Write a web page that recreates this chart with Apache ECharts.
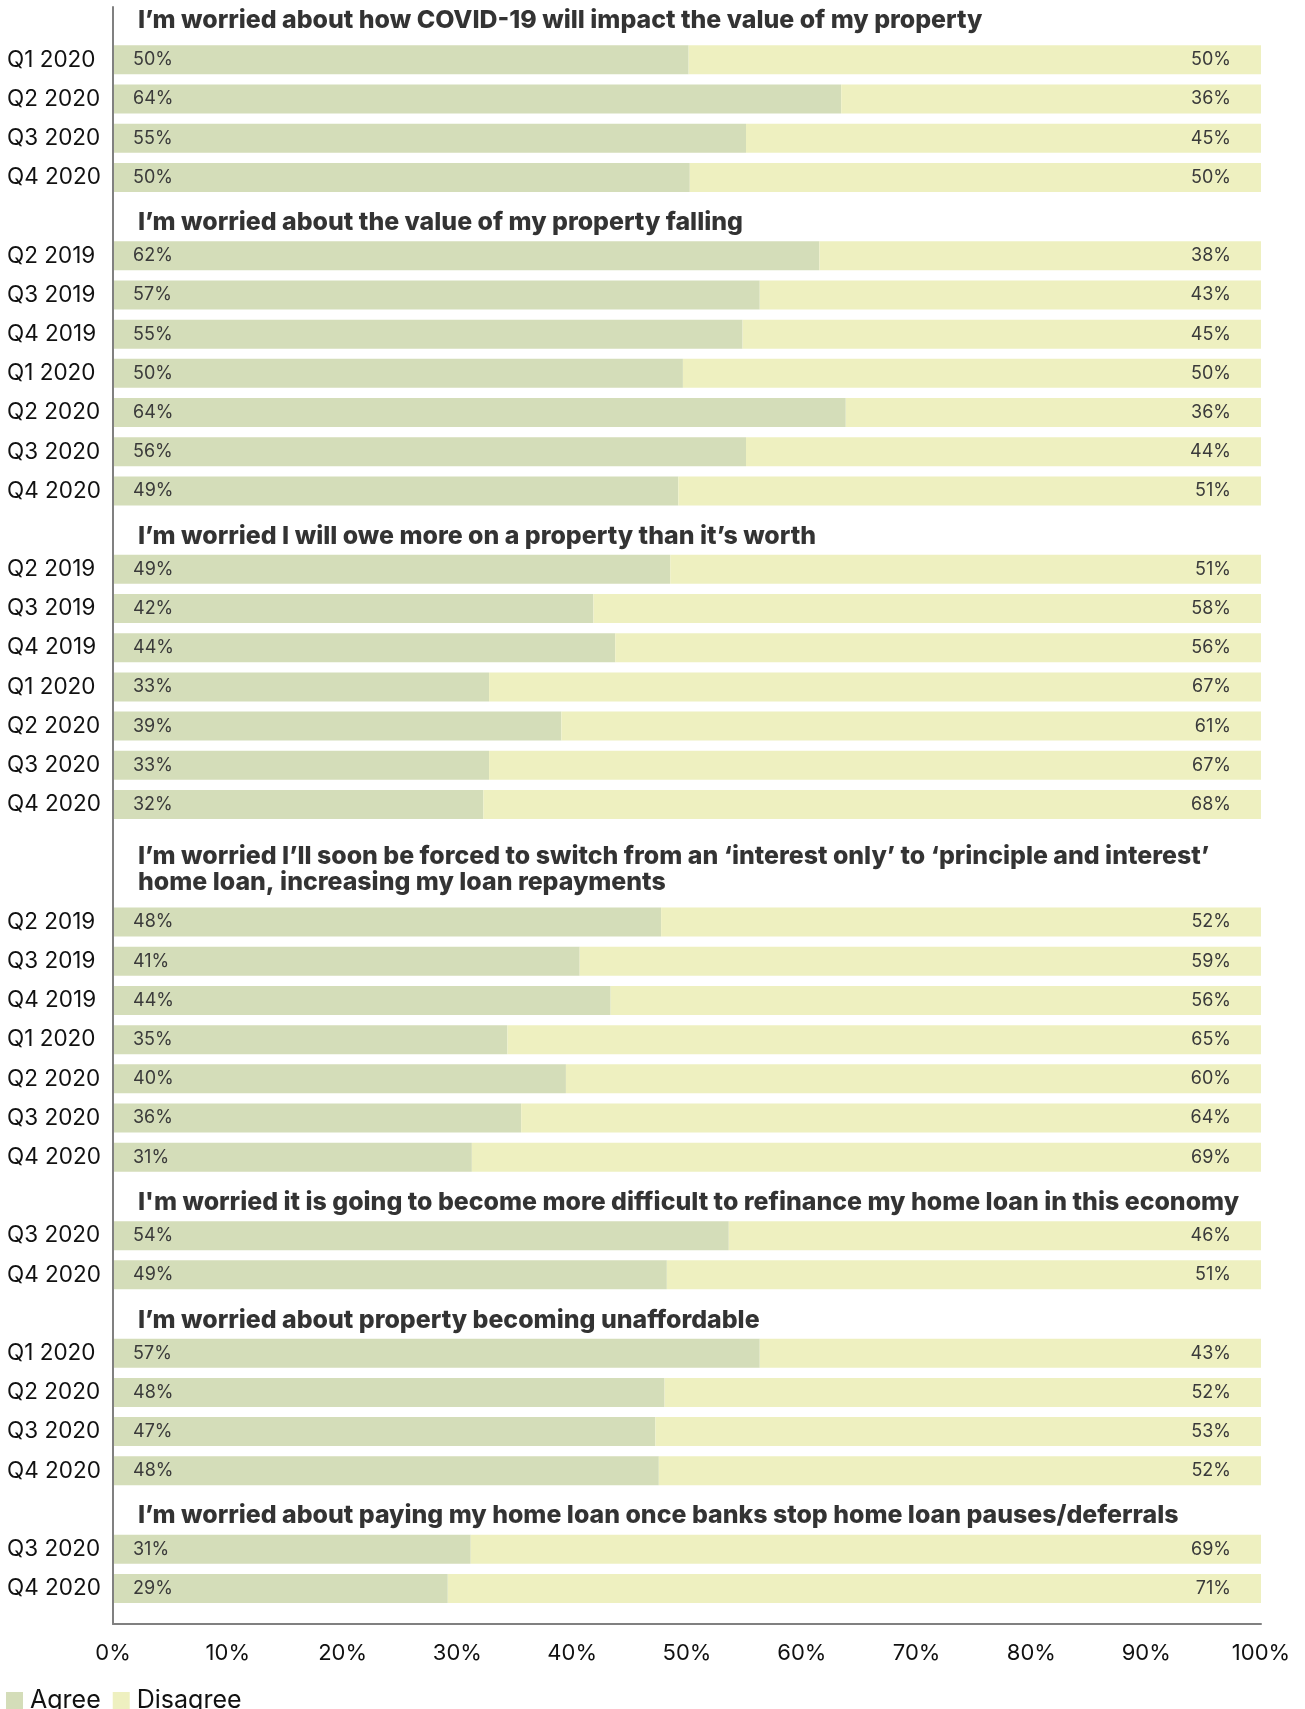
<!DOCTYPE html>
<html>
<head>
<meta charset="utf-8">
<script src="https://cdn.jsdelivr.net/npm/echarts@6/dist/echarts.min.js"></script>
<style>
  html, body { margin: 0; padding: 0; background: #ffffff; }
  #chart { width: 1305px; height: 1709px; }
</style>
</head>
<body>
<div id="chart"></div>
<script>
// ---- Data ----
const sectionTitles = [
  "I\u2019m worried about how COVID-19 will impact the value of my property",
  "I\u2019m worried about the value of my property falling",
  "I\u2019m worried I will owe more on a property than it\u2019s worth",
  "I\u2019m worried I\u2019ll soon be forced to switch from an \u2018interest only\u2019 to \u2018principle and interest\u2019\nhome loan, increasing my loan repayments",
  "I'm worried it is going to become more difficult to refinance my home loan in this economy",
  "I\u2019m worried about property becoming unaffordable",
  "I\u2019m worried about paying my home loan once banks stop home loan pauses/deferrals"
];

const periodsCovid     = ["Q1 2020", "Q2 2020", "Q3 2020", "Q4 2020"];
const periodsFalling   = ["Q2 2019", "Q3 2019", "Q4 2019", "Q1 2020", "Q2 2020", "Q3 2020", "Q4 2020"];
const periodsOwe       = ["Q2 2019", "Q3 2019", "Q4 2019", "Q1 2020", "Q2 2020", "Q3 2020", "Q4 2020"];
const periodsInterest  = ["Q2 2019", "Q3 2019", "Q4 2019", "Q1 2020", "Q2 2020", "Q3 2020", "Q4 2020"];
const periodsRefinance = ["Q3 2020", "Q4 2020"];
const periodsAfford    = ["Q1 2020", "Q2 2020", "Q3 2020", "Q4 2020"];
const periodsPauses    = ["Q3 2020", "Q4 2020"];

// bar lengths (share agreeing / disagreeing, %)
const agreeCovid     = [50.1, 63.4, 55.1, 50.2];
const agreeFalling   = [61.5, 56.3, 54.8, 49.6, 63.8, 55.1, 49.2];
const agreeOwe       = [48.5, 41.8, 43.7, 32.7, 39.0, 32.7, 32.2];
const agreeInterest  = [47.7, 40.6, 43.3, 34.3, 39.4, 35.5, 31.2];
const agreeRefinance = [53.6, 48.2];
const agreeAfford    = [56.3, 48.0, 47.2, 47.5];
const agreePauses    = [31.1, 29.1];

const disagreeCovid     = [49.9, 36.6, 44.9, 49.8];
const disagreeFalling   = [38.5, 43.7, 45.2, 50.4, 36.2, 44.9, 50.8];
const disagreeOwe       = [51.5, 58.2, 56.3, 67.3, 61.0, 67.3, 67.8];
const disagreeInterest  = [52.3, 59.4, 56.7, 65.7, 60.6, 64.5, 68.8];
const disagreeRefinance = [46.4, 51.8];
const disagreeAfford    = [43.7, 52.0, 52.8, 52.5];
const disagreePauses    = [68.9, 70.9];

// printed labels
const agreeLabelsCovid     = [50, 64, 55, 50];
const agreeLabelsFalling   = [62, 57, 55, 50, 64, 56, 49];
const agreeLabelsOwe       = [49, 42, 44, 33, 39, 33, 32];
const agreeLabelsInterest  = [48, 41, 44, 35, 40, 36, 31];
const agreeLabelsRefinance = [54, 49];
const agreeLabelsAfford    = [57, 48, 47, 48];
const agreeLabelsPauses    = [31, 29];

const disagreeLabelsCovid     = [50, 36, 45, 50];
const disagreeLabelsFalling   = [38, 43, 45, 50, 36, 44, 51];
const disagreeLabelsOwe       = [51, 58, 56, 67, 61, 67, 68];
const disagreeLabelsInterest  = [52, 59, 56, 65, 60, 64, 69];
const disagreeLabelsRefinance = [46, 51];
const disagreeLabelsAfford    = [43, 52, 53, 52];
const disagreeLabelsPauses    = [69, 71];

const xTicks = [0, 10, 20, 30, 40, 50, 60, 70, 80, 90, 100];
const seriesNames = ["Agree", "Disagree"];

// ---- Build rows ----
const sections = [
  [periodsCovid, agreeCovid, disagreeCovid, agreeLabelsCovid, disagreeLabelsCovid],
  [periodsFalling, agreeFalling, disagreeFalling, agreeLabelsFalling, disagreeLabelsFalling],
  [periodsOwe, agreeOwe, disagreeOwe, agreeLabelsOwe, disagreeLabelsOwe],
  [periodsInterest, agreeInterest, disagreeInterest, agreeLabelsInterest, disagreeLabelsInterest],
  [periodsRefinance, agreeRefinance, disagreeRefinance, agreeLabelsRefinance, disagreeLabelsRefinance],
  [periodsAfford, agreeAfford, disagreeAfford, agreeLabelsAfford, disagreeLabelsAfford],
  [periodsPauses, agreePauses, disagreePauses, agreeLabelsPauses, disagreeLabelsPauses]
];

const categories = [], agreeData = [], disagreeData = [], agreeLbl = [], disagreeLbl = [], headingData = [];
sections.forEach(function (sec, s) {
  const title = sectionTitles[s];
  const nLines = title.split("\n").length;
  headingData.push({
    name: title,
    value: [0, categories.length],
    label: { offset: [0, nLines > 1 ? 26 : (s === 0 ? 0 : 6)] }
  });
  for (let k = 0; k < nLines; k++) {
    categories.push("");
    agreeData.push("-"); disagreeData.push("-");
    agreeLbl.push(""); disagreeLbl.push("");
  }
  sec[0].forEach(function (p, i) {
    categories.push(p);
    agreeData.push(sec[1][i]);
    disagreeData.push(sec[2][i]);
    agreeLbl.push(sec[3][i] + "%");
    disagreeLbl.push(sec[4][i] + "%");
  });
});

const FONT = "Inter";
const chart = echarts.init(document.getElementById("chart"), null, { renderer: "canvas" });
const axisGray = "#808080";

chart.setOption({
  animation: false,
  backgroundColor: "#ffffff",
  textStyle: { fontFamily: FONT },
  legend: {
    data: seriesNames,
    left: 6, top: 1688, padding: 0,
    icon: "rect", itemWidth: 17, itemHeight: 17, itemGap: 12,
    textStyle: { fontFamily: FONT, fontSize: 25, lineHeight: 17, color: "#111111", padding: [0, 0, 0, 2] }
  },
  grid: [
    { left: 114, right: 44, top: 1, height: 1607 },
    { left: 113, right: 44, top: 7, bottom: 85 }
  ],
  xAxis: [
    { gridIndex: 0, type: "value", min: 0, max: 100, show: false },
    {
      gridIndex: 1, type: "value", min: xTicks[0], max: xTicks[xTicks.length - 1], interval: 10,
      axisLine: { show: true, lineStyle: { color: axisGray, width: 2 } },
      axisTick: { show: false }, splitLine: { show: false },
      axisLabel: { formatter: "{value}%", fontFamily: FONT, fontSize: 22, color: "#111111", margin: 18 }
    }
  ],
  yAxis: [
    {
      gridIndex: 0, type: "category", inverse: true, data: categories,
      axisLine: { show: false }, axisTick: { show: false }, splitLine: { show: false },
      axisLabel: { interval: 0, align: "left", margin: 107, fontFamily: FONT, fontSize: 22.5, color: "#111111" }
    },
    {
      gridIndex: 1, type: "value", min: 0, max: 1,
      axisLine: { show: true, onZero: false, lineStyle: { color: axisGray, width: 2 } },
      axisTick: { show: false }, axisLabel: { show: false }, splitLine: { show: false }
    }
  ],
  series: [
    {
      name: seriesNames[0], type: "bar", stack: "total", xAxisIndex: 0, yAxisIndex: 0,
      barWidth: 29, data: agreeData,
      itemStyle: { color: "#d4ddb9" },
      label: {
        show: true, position: "insideLeft", distance: 19,
        formatter: function (p) { return agreeLbl[p.dataIndex]; },
        fontFamily: FONT, fontSize: 18, color: "#3a3a3a"
      }
    },
    {
      name: seriesNames[1], type: "bar", stack: "total", xAxisIndex: 0, yAxisIndex: 0,
      barWidth: 29, data: disagreeData,
      itemStyle: { color: "#eef0c0" },
      label: {
        show: true, position: "insideRight", distance: 30,
        formatter: function (p) { return disagreeLbl[p.dataIndex]; },
        fontFamily: FONT, fontSize: 18, color: "#3a3a3a"
      }
    },
    {
      name: "headings", type: "scatter", xAxisIndex: 0, yAxisIndex: 0,
      symbolSize: 0, silent: true, data: headingData,
      label: {
        show: true, position: "right", distance: 24,
        formatter: function (p) { return p.name; },
        fontFamily: FONT, fontWeight: 800, fontSize: 24.9, lineHeight: 26,
        color: "#000000", align: "left"
      }
    }
  ]
});
</script>
</body>
</html>
